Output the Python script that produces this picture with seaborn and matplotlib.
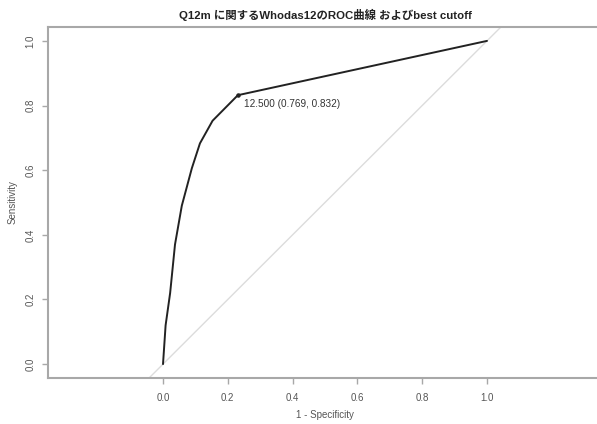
import matplotlib
matplotlib.use("Agg")
import matplotlib.pyplot as plt
import numpy as np
import pandas as pd
import seaborn as sns

# ROC curve points (1 - specificity, sensitivity)
fpr = [0.0, 0.008, 0.022, 0.037, 0.058, 0.089, 0.114, 0.153, 0.231, 1.0]
tpr = [0.0, 0.12, 0.22, 0.37, 0.49, 0.606, 0.683, 0.753, 0.832, 1.0]

best_threshold = 12.5
best_spec = 0.769
best_sens = 0.832

x_ticks = [0.0, 0.2, 0.4, 0.6, 0.8, 1.0]
y_ticks = [0.0, 0.2, 0.4, 0.6, 0.8, 1.0]

title = "Q12m に関するWhodas12のROC曲線 およびbest cutoff"

sns.set_theme(style="white")
plt.rcParams["font.family"] = ["Liberation Sans", "Noto Sans CJK JP", "DejaVu Sans"]

W, H = 597, 424
fig = plt.figure(figsize=(W / 100, H / 100), dpi=100)
left, right, top, bottom = 48, 602, 27, 378
ax = fig.add_axes([left / W, 1 - bottom / H, (right - left) / W, (bottom - top) / H])

frame = "#a8a8a8"
text_c = "#555555"

# diagonal reference
ax.plot([-0.5, 1.5], [-0.5, 1.5], color="#dcdcdc", linewidth=1.0, zorder=1)

df = pd.DataFrame({"fpr": fpr, "tpr": tpr})
sns.lineplot(data=df, x="fpr", y="tpr", sort=False, color="#222222",
             linewidth=1.4, ax=ax, zorder=3)

bx = 1 - best_spec
ax.scatter([bx], [best_sens], s=5, color="#222222", zorder=4)
ax.annotate(f"{best_threshold:.3f} ({best_spec:.3f}, {best_sens:.3f})",
            (bx, best_sens), xytext=(4.5, -6), textcoords="offset points",
            fontsize=7.2, color="#333333", va="center", ha="left")

ax.set_xlim(-0.355, 1.355)
ax.set_ylim(-0.043, 1.043)
ax.set_xticks(x_ticks)
ax.set_yticks(y_ticks)
ax.set_xticklabels([f"{v:.1f}" for v in x_ticks])
ax.set_yticklabels([f"{v:.1f}" for v in y_ticks], rotation=90, va="center")

for s in ["left", "bottom", "top"]:
    ax.spines[s].set_color(frame)
    ax.spines[s].set_linewidth(1.5)
ax.spines["right"].set_visible(False)

ax.tick_params(axis="both", direction="out", length=4, width=1, color=frame,
               labelsize=7, labelcolor=text_c, pad=5, bottom=True, left=True)
ax.tick_params(axis="x", pad=7)

ax.set_xlabel("1 - Specificity", fontsize=7, color=text_c, labelpad=5)
ax.set_ylabel("Sensitivity", fontsize=7, color=text_c, labelpad=6)

fig.text((left + right) / 2 / W, 1 - 15 / H, title, ha="center", va="center",
         fontsize=8.2, fontweight="bold", color="#222222",
         family=["Liberation Sans", "Noto Sans CJK JP"])

fig.savefig("out.png", dpi=100)
